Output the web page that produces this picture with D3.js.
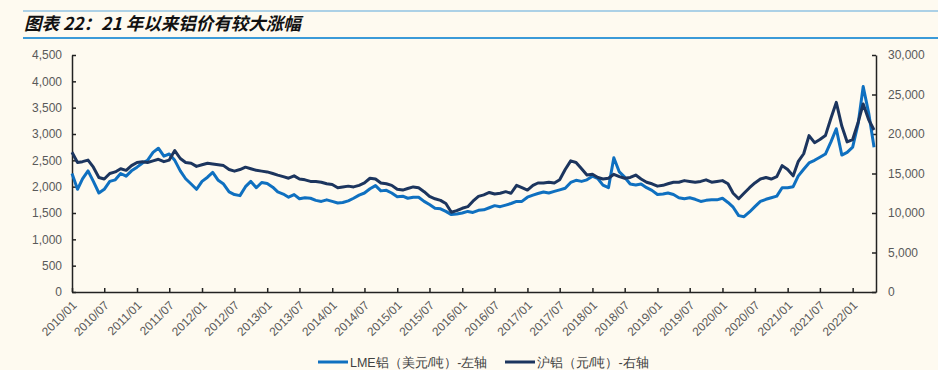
<!DOCTYPE html>
<html>
<head>
<meta charset="utf-8">
<script src="https://cdn.jsdelivr.net/npm/d3@7"></script>
<style>
  body { margin: 0; background: #fefaf0; }
  svg { display: block; font-family: "Liberation Sans", Arial, sans-serif; }
</style>
</head>
<body>
<div id="chart"></div>
<script>
// monthly points from 2010/01 to 2022/05
const months = d3.timeMonth.range(new Date(2010, 0, 1), new Date(2022, 5, 1));

const lmeAl = [
  2250, 1950, 2150, 2300, 2100, 1880, 1950, 2100, 2130, 2250, 2200, 2300,
  2370, 2450, 2500, 2650, 2730, 2580, 2620, 2500, 2300, 2150, 2050, 1950,
  2100, 2180, 2270, 2120, 2050, 1900, 1850, 1830, 2000, 2100, 1980, 2080,
  2060, 1990, 1900, 1860, 1800, 1850, 1770, 1790, 1780, 1740, 1720, 1750,
  1720, 1690, 1700, 1730, 1780, 1840, 1880, 1960, 2020, 1920, 1930, 1880,
  1810, 1820, 1780, 1800, 1800, 1720, 1660, 1590, 1580, 1530, 1470, 1480,
  1500, 1530, 1510, 1550, 1560, 1600, 1640, 1620, 1650, 1680, 1720, 1720,
  1800, 1840, 1870, 1900, 1880, 1910, 1940, 1970, 2080, 2120, 2100, 2130,
  2200, 2150, 2030, 1980, 2550, 2280, 2180, 2050, 2030, 2050, 1980, 1930,
  1850, 1860, 1880, 1850, 1790, 1770, 1790, 1760, 1720, 1740, 1750, 1750,
  1780, 1700, 1610, 1450, 1430, 1520, 1620, 1720, 1760, 1790, 1820, 1980,
  1980, 2000, 2200, 2330, 2450, 2500, 2560, 2620, 2850, 3100, 2600, 2650,
  2750, 3200, 3900, 3400, 2750
];

const shfeAl = [
  17700, 16400, 16500, 16700, 15800, 14500, 14300, 15000, 15200, 15600, 15400, 16000,
  16400, 16500, 16400, 16600, 16800, 16500, 16700, 17900, 16900, 16400, 16300, 15900,
  16100, 16300, 16200, 16100, 16000, 15500, 15300, 15500, 15800, 15600, 15400, 15300,
  15200, 15000, 14800, 14600, 14400, 14700, 14300, 14200, 14000, 14000, 13900, 13700,
  13600, 13200, 13300, 13400, 13300, 13500, 13800, 14400, 14300, 13800, 13700, 13500,
  13000, 12900, 13100, 13300, 13200, 12700, 12100, 11800, 11600, 11200, 10100, 10300,
  10600, 10800, 11500, 12100, 12300, 12600, 12400, 12500, 12700, 12500, 13500, 13200,
  12900, 13500, 13800, 13800, 13900, 13800, 14200, 15500, 16600, 16400, 15600, 14800,
  14900, 14500, 14300, 14400, 14900, 14600, 14400, 14500, 14800, 14300, 13900, 13700,
  13400, 13500, 13700, 13900, 13900, 14100, 14000, 13900, 14000, 14200, 13900, 14000,
  14100, 13700, 12500, 11800, 12500, 13200, 13800, 14300, 14500, 14300, 14600, 16000,
  15500, 14700, 16500, 17500, 19800, 18900, 19300, 19800, 22000, 24000, 21000, 19000,
  19300, 21500, 23800, 21800, 20500
];

const leftTicks = [0, 500, 1000, 1500, 2000, 2500, 3000, 3500, 4000, 4500];
const rightTicks = [0, 5000, 10000, 15000, 20000, 25000, 30000];
const seriesNames = ["LME铝（美元/吨）-左轴", "沪铝（元/吨）-右轴"];
const colors = ["#0f70c0", "#1c355e"];

const width = 938;
const height = 370;
const margin = { top: 55, right: 62, bottom: 78, left: 72 };

const svg = d3.select("#chart")
  .append("svg")
  .attr("width", width)
  .attr("height", height);

// title block
svg.append("line")
  .attr("x1", 23).attr("x2", width).attr("y1", 11).attr("y2", 11)
  .attr("stroke", "#5aa7dc").attr("stroke-width", 1);
svg.append("line")
  .attr("x1", 23).attr("x2", width).attr("y1", 38).attr("y2", 38)
  .attr("stroke", "#3b9ad8").attr("stroke-width", 2);
svg.append("text")
  .attr("x", 24).attr("y", 30)
  .attr("font-size", 17.5)
  .attr("font-weight", "bold")
  .attr("font-style", "italic")
  .attr("font-family", "'Noto Sans CJK SC', sans-serif")
  .attr("fill", "#111")
  .text("图表 22：21 年以来铝价有较大涨幅");

const x = d3.scaleTime()
  .domain([new Date(2010, 0, 1), new Date(2022, 4, 12)])
  .range([margin.left, width - margin.right]);

const yL = d3.scaleLinear()
  .domain([0, 4500])
  .range([height - margin.bottom, margin.top]);

const yR = d3.scaleLinear()
  .domain([0, 30000])
  .range([height - margin.bottom, margin.top]);

const fmt = d3.format(",");
const fmtDate = d3.timeFormat("%Y/%m");

// left axis
svg.append("g")
  .attr("transform", `translate(${margin.left},0)`)
  .call(d3.axisLeft(yL).tickValues(leftTicks).tickFormat(fmt).tickSizeInner(-4).tickSizeOuter(0).tickPadding(10))
  .call(g => g.select(".domain").attr("stroke", "#222").attr("stroke-width", 1.5))
  .call(g => g.selectAll(".tick line").attr("stroke", "#222").attr("stroke-width", 1.5))
  .call(g => g.selectAll(".tick text").attr("font-size", 12).attr("fill", "#595959"));

// right axis
svg.append("g")
  .attr("transform", `translate(${width - margin.right},0)`)
  .call(d3.axisRight(yR).tickValues(rightTicks).tickFormat(fmt).tickSizeInner(-4).tickSizeOuter(0).tickPadding(12))
  .call(g => g.select(".domain").attr("stroke", "#222").attr("stroke-width", 1.5))
  .call(g => g.selectAll(".tick line").attr("stroke", "#222").attr("stroke-width", 1.5))
  .call(g => g.selectAll(".tick text").attr("font-size", 12).attr("fill", "#595959"));

// bottom axis, labels rotated so they end at the tick
svg.append("g")
  .attr("transform", `translate(0,${height - margin.bottom})`)
  .call(d3.axisBottom(x).ticks(d3.timeMonth.every(6)).tickFormat(fmtDate).tickSizeInner(-4).tickSizeOuter(0))
  .call(g => g.select(".domain").attr("stroke", "#222").attr("stroke-width", 1.5))
  .call(g => g.selectAll(".tick line").attr("stroke", "#222").attr("stroke-width", 1.5))
  .call(g => g.selectAll(".tick text")
    .attr("font-size", 12)
    .attr("fill", "#595959")
    .attr("text-anchor", "end")
    .attr("x", null)
    .attr("y", null)
    .attr("dy", null)
    .attr("transform", "translate(5,14) rotate(-45)"));

const lineL = d3.line()
  .x((d, i) => x(months[i]))
  .y(d => yL(d));

const lineR = d3.line()
  .x((d, i) => x(months[i]))
  .y(d => yR(d));

svg.append("path")
  .datum(lmeAl)
  .attr("fill", "none")
  .attr("stroke", colors[0])
  .attr("stroke-width", 3)
  .attr("stroke-linejoin", "round")
  .attr("d", lineL);

svg.append("path")
  .datum(shfeAl)
  .attr("fill", "none")
  .attr("stroke", colors[1])
  .attr("stroke-width", 3)
  .attr("stroke-linejoin", "round")
  .attr("d", lineR);

// legend
const legend = svg.append("g").attr("transform", "translate(0,362)");
const legendX = [318, 505];
seriesNames.forEach((name, i) => {
  legend.append("line")
    .attr("x1", legendX[i]).attr("x2", legendX[i] + 30)
    .attr("y1", 0).attr("y2", 0)
    .attr("stroke", colors[i]).attr("stroke-width", 3);
  legend.append("text")
    .attr("x", legendX[i] + 32)
    .attr("y", 4.5)
    .attr("font-size", 12.5)
    .attr("fill", "#404040")
    .text(name);
});
</script>
</body>
</html>
